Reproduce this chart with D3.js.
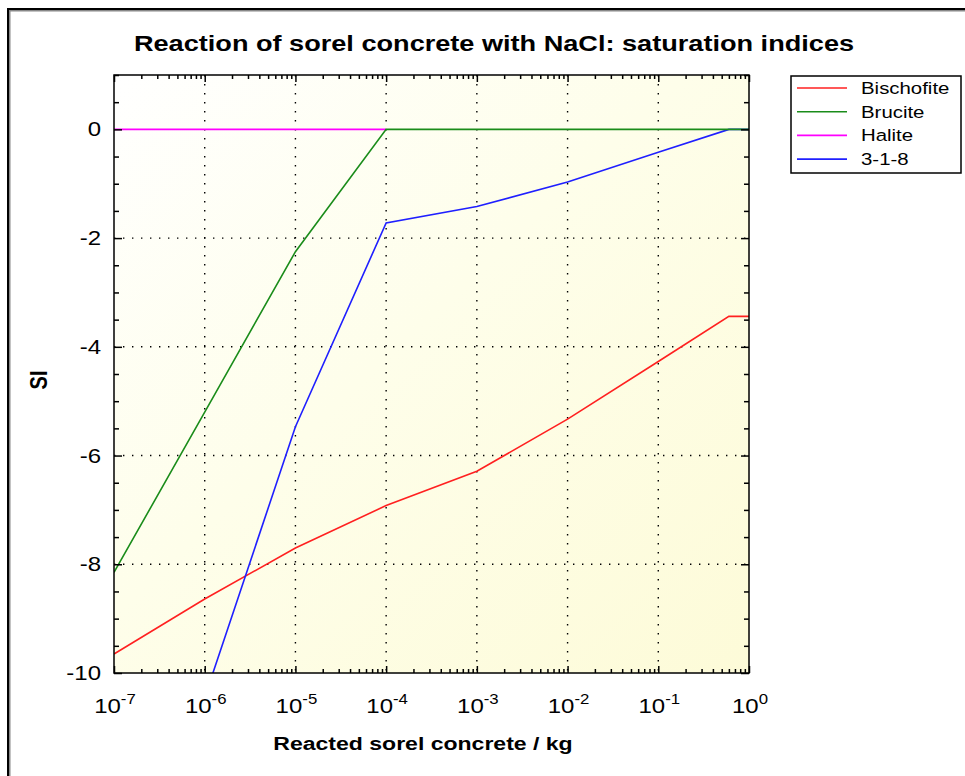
<!DOCTYPE html>
<html>
<head>
<meta charset="utf-8">
<script src="https://cdn.jsdelivr.net/npm/d3@7"></script>
<style>
  body { margin: 0; background: #fff; }
  text { font-family: "Liberation Sans", Arial, sans-serif; }
</style>
</head>
<body>
<svg id="chart" width="965" height="776"></svg>
<script>
// values
var seriesNames = ["Bischofite", "Brucite", "Halite", "3-1-8"];
var seriesColors = ["#ff2020", "#1a8c1a", "#ff00ff", "#1f1fff"];

var bischofiteX = [1e-7, 1e-6, 1e-5, 1e-4, 1e-3, 1e-2, 1e-1, 0.6, 1];
var bischofiteY = [-9.65, -8.64, -7.70, -6.92, -6.29, -5.33, -4.27, -3.44, -3.44];

var bruciteX = [1e-7, 1e-6, 1e-5, 1e-4, 1e-3, 1e-2, 1e-1, 0.6, 1];
var bruciteY = [-8.15, -5.2, -2.25, 0, 0, 0, 0, 0, 0];

var haliteX = [1e-7, 1e-6, 1e-5, 1e-4];
var haliteY = [0, 0, 0, 0];

var s318X = [1e-6, 1e-5, 1e-4, 1e-3, 1e-2, 1e-1, 0.6, 1];
var s318Y = [-10.45, -5.47, -1.72, -1.42, -0.97, -0.42, 0, 0];

var xMajor = [1e-7, 1e-6, 1e-5, 1e-4, 1e-3, 1e-2, 1e-1, 1];
var xExponents = ["-7", "-6", "-5", "-4", "-3", "-2", "-1", "0"];
var yMajor = [0, -2, -4, -6, -8, -10];

// the original picture is stretched sideways, so are its letters
var stretch = 1.2;

window.onload = function() {
	var margin = {top: 75, left: 114},
		width = 749 - 114,
		height = 673 - 75;

	var svg = d3.select("#chart");

	// outer frame of the picture
	svg.append("path")
		.attr("d", "M9,776 V10 H965")
		.attr("fill", "none")
		.attr("stroke", "#888")
		.attr("stroke-width", 3);
	svg.append("path")
		.attr("d", "M8,776 V9 H965")
		.attr("fill", "none")
		.attr("stroke", "#000")
		.attr("stroke-width", 2);

	var x = d3.scaleLog().domain([1e-7, 1]).range([0, width]);
	var y = d3.scaleLinear().domain([-10, 1]).range([height, 0]);

	var defs = svg.append("defs");
	var grad = defs.append("linearGradient")
		.attr("id", "bg")
		.attr("x1", "0%").attr("y1", "0%")
		.attr("x2", "100%").attr("y2", "100%");
	grad.append("stop").attr("offset", "0%").attr("stop-color", "#ffffff");
	grad.append("stop").attr("offset", "45%").attr("stop-color", "#fefeea");
	grad.append("stop").attr("offset", "100%").attr("stop-color", "#fdfbd8");
	defs.append("clipPath").attr("id", "clip")
	  .append("rect").attr("width", width).attr("height", height);

	var g = svg.append("g")
		.attr("transform", "translate(" + margin.left + "," + margin.top + ")");

	g.append("rect")
		.attr("width", width)
		.attr("height", height)
		.attr("fill", "url(#bg)");

	// dotted grid
	var xGrid = xMajor.slice(1, -1);
	g.selectAll(".xgrid").data(xGrid).enter().append("line")
		.attr("x1", function(d) { return x(d); })
		.attr("x2", function(d) { return x(d); })
		.attr("y1", 0).attr("y2", height)
		.attr("stroke", "#000")
		.attr("stroke-width", 1.4)
		.attr("stroke-dasharray", "1.4,7.6");
	g.selectAll(".ygrid").data(yMajor.slice(1, -1)).enter().append("line")
		.attr("x1", 0).attr("x2", width)
		.attr("y1", function(d) { return y(d); })
		.attr("y2", function(d) { return y(d); })
		.attr("stroke", "#000")
		.attr("stroke-width", 1.4)
		.attr("stroke-dasharray", "1.4,7.6");

	// lines (brucite last, it lies on top where the lines meet at 0)
	var line = d3.line()
		.x(function(d) { return x(d[0]); })
		.y(function(d) { return y(d[1]); });
	var series = [
		{xs: bischofiteX, ys: bischofiteY, color: seriesColors[0]},
		{xs: haliteX, ys: haliteY, color: seriesColors[2]},
		{xs: s318X, ys: s318Y, color: seriesColors[3]},
		{xs: bruciteX, ys: bruciteY, color: seriesColors[1]}
	];
	var lines = g.append("g").attr("clip-path", "url(#clip)");
	series.forEach(function(s) {
		lines.append("path")
			.datum(d3.zip(s.xs, s.ys))
			.attr("d", line)
			.attr("fill", "none")
			.attr("stroke", s.color)
			.attr("stroke-width", 1.6);
	});

	// minor ticks
	var xMinor = [];
	for (var e = -7; e < 0; e++) {
		for (var m = 2; m <= 9; m++) xMinor.push(m * Math.pow(10, e));
	}
	var yMinor = d3.range(-10, 1.01, 0.5).filter(function(v) { return yMajor.indexOf(v) < 0; });

	function ticks(axisFn, scale, values, size) {
		return axisFn(scale).tickValues(values).tickSize(size).tickFormat("");
	}
	function styleAxis(sel) {
		sel.select(".domain").remove();
		sel.selectAll("line").attr("stroke", "#000").attr("stroke-width", 1.5);
	}

	g.append("g").attr("transform", "translate(0," + height + ")")
		.call(ticks(d3.axisTop, x, xMinor, 4)).call(styleAxis);
	g.append("g").attr("transform", "translate(0," + height + ")")
		.call(ticks(d3.axisTop, x, xMajor, 7)).call(styleAxis);
	g.append("g")
		.call(ticks(d3.axisBottom, x, xMinor, 4)).call(styleAxis);
	g.append("g")
		.call(ticks(d3.axisBottom, x, xMajor, 7)).call(styleAxis);
	g.append("g")
		.call(ticks(d3.axisRight, y, yMinor, 5)).call(styleAxis);
	g.append("g")
		.call(ticks(d3.axisRight, y, yMajor, 8)).call(styleAxis);
	g.append("g").attr("transform", "translate(" + width + ",0)")
		.call(ticks(d3.axisLeft, y, yMinor, 5)).call(styleAxis);
	g.append("g").attr("transform", "translate(" + width + ",0)")
		.call(ticks(d3.axisLeft, y, yMajor, 8)).call(styleAxis);

	// frame of the plot
	g.append("rect")
		.attr("width", width)
		.attr("height", height)
		.attr("fill", "none")
		.attr("stroke", "#000")
		.attr("stroke-width", 1.5);

	function wide(px, py) {
		return "translate(" + px + "," + py + ") scale(" + stretch + ",1)";
	}

	// tick labels
	g.selectAll(".ylab").data(yMajor).enter().append("text")
		.attr("transform", function(d) { return wide(-13, y(d)); })
		.attr("dy", "0.35em")
		.attr("text-anchor", "end")
		.attr("font-size", 20)
		.text(function(d) { return d; });

	var xl = g.selectAll(".xlab").data(xMajor).enter().append("text")
		.attr("transform", function(d) { return wide(x(d) + 1, height + 40); })
		.attr("text-anchor", "middle")
		.attr("font-size", 20);
	xl.append("tspan").text("10");
	xl.append("tspan")
		.attr("dy", -9)
		.attr("font-size", 14)
		.text(function(d, i) { return xExponents[i]; });

	// titles
	svg.append("text")
		.attr("transform", wide(494, 51))
		.attr("text-anchor", "middle")
		.attr("font-size", 22.6)
		.attr("font-weight", "bold")
		.text("Reaction of sorel concrete with NaCl: saturation indices");
	svg.append("text")
		.attr("transform", wide(423, 750))
		.attr("text-anchor", "middle")
		.attr("font-size", 19.2)
		.attr("font-weight", "bold")
		.text("Reacted sorel concrete / kg");
	svg.append("text")
		.attr("transform", "translate(47,380) scale(" + stretch + ",1) rotate(-90)")
		.attr("text-anchor", "middle")
		.attr("font-size", 20)
		.attr("font-weight", "bold")
		.text("SI");

	// legend
	var legend = svg.append("g").attr("transform", "translate(791,76)");
	legend.append("rect")
		.attr("width", 170)
		.attr("height", 97)
		.attr("fill", "#fff")
		.attr("stroke", "#000")
		.attr("stroke-width", 1.5);
	seriesNames.forEach(function(name, i) {
		var ly = 12 + i * 23.7;
		legend.append("line")
			.attr("x1", 6).attr("x2", 56)
			.attr("y1", ly).attr("y2", ly)
			.attr("stroke", seriesColors[i])
			.attr("stroke-width", 1.6);
		legend.append("text")
			.attr("transform", wide(70, ly))
			.attr("dy", "0.35em")
			.attr("font-size", 17)
			.text(name);
	});
};
</script>
</body>
</html>
